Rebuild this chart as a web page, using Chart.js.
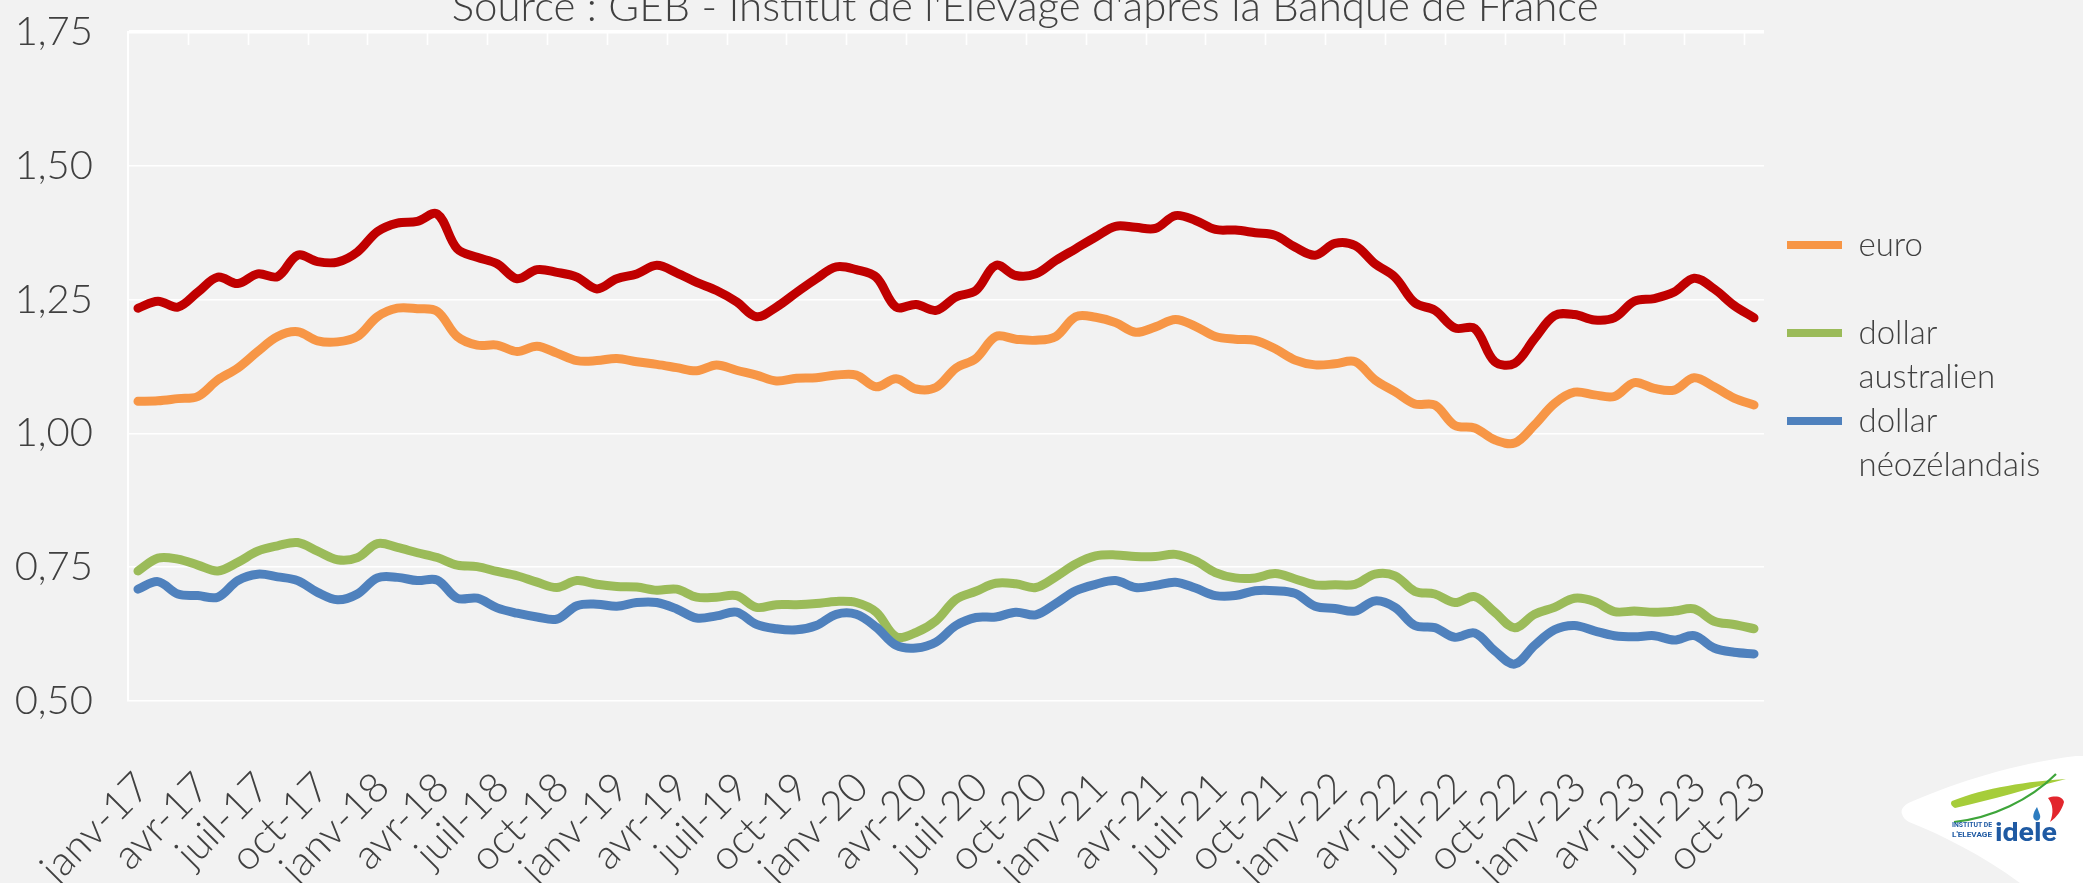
<!DOCTYPE html>
<html lang="fr">
<head>
<meta charset="utf-8">
<title>Taux de change</title>
<script src="https://cdn.jsdelivr.net/npm/chart.js@4.4.0/dist/chart.umd.min.js"></script>
<style>
  html, body { margin: 0; padding: 0; width: 2083px; height: 883px; overflow: hidden; background: #f2f2f2; }
  #wrap { position: absolute; left: 0; top: -30px; width: 2083px; height: 931px; }
  #logo { position: absolute; left: 1880px; top: 740px; width: 203px; height: 143px; }
</style>
</head>
<body>
<div id="wrap"><canvas id="chart"></canvas></div>

<svg id="logo" viewBox="0 0 203 143">
  <path d="M22,74 C20,69 25,64 33,61 C78,42 132,24 196,16 L203,16 L203,143 L140,143 C102,115 62,95 29,82 C25,80 23,77 22,74 Z" fill="#ffffff"/>
  <path d="M72,61 C104,48 150,41 186,39 C150,48 112,60 75,68 C71,66 70,63 72,61 Z" fill="#a6cd3a"/>
  <path d="M74,82 C112,78 150,60 176,34" stroke="#3ea53a" stroke-width="2.2" fill="none"/>
  <path d="M168,58 C176,55 183,57 184,62 C182,70 177,77 170,82 C174,73 173,64 168,58 Z" fill="#e2262d"/>
  <path d="M157,67 C153,73 152,78 155,80 C158,82 161,79 160,75 Z" fill="#2d7cc0"/>
  <text x="72" y="87" font-family="Roboto, sans-serif" font-weight="700" font-size="7.5" textLength="40" lengthAdjust="spacingAndGlyphs" fill="#1f5aa3">INSTITUT DE</text>
  <text x="72" y="97" font-family="Roboto, sans-serif" font-weight="700" font-size="7.5" textLength="40" lengthAdjust="spacingAndGlyphs" fill="#1f5aa3">L'ELEVAGE</text>
  <text x="115" y="101" font-family="Roboto, sans-serif" font-weight="700" font-size="25" textLength="62" lengthAdjust="spacingAndGlyphs" fill="#1f5aa3">idele</text>
</svg>

<script>
// ─────────────────────────────────────────────
// Monthly exchange rates in US dollars, janv-17 → oct-23
// ─────────────────────────────────────────────
const monthNames = ['janv', 'févr', 'mars', 'avr', 'mai', 'juin', 'juil', 'août', 'sept', 'oct', 'nov', 'déc'];
const years = ['17', '18', '19', '20', '21', '22', '23'];
const months = [];
years.forEach(y => monthNames.forEach(m => months.push(m + '-' + y)));
months.length = 82; // last month: oct-23

const yTicks = [0.50, 0.75, 1.00, 1.25, 1.50, 1.75];

const livre = [
  1.234, 1.247, 1.236, 1.264, 1.292, 1.280, 1.298, 1.293, 1.333, 1.321, 1.320, 1.339,
  1.377, 1.393, 1.396, 1.410, 1.345, 1.329, 1.317, 1.289, 1.306, 1.301, 1.292, 1.270,
  1.289, 1.298, 1.314, 1.300, 1.282, 1.267, 1.246, 1.218, 1.236, 1.263, 1.289, 1.311,
  1.306, 1.292, 1.236, 1.241, 1.230, 1.255, 1.267, 1.314, 1.295, 1.298, 1.323, 1.345,
  1.367, 1.387, 1.385, 1.383, 1.407, 1.398, 1.381, 1.380, 1.375, 1.370, 1.348, 1.333,
  1.355, 1.351, 1.317, 1.292, 1.244, 1.230, 1.197, 1.196, 1.134, 1.131, 1.177, 1.220,
  1.222, 1.212, 1.216, 1.247, 1.252, 1.264, 1.290, 1.270, 1.239, 1.216
];

const euro = [
  1.060, 1.061, 1.065, 1.069, 1.100, 1.122, 1.153, 1.181, 1.190, 1.173, 1.171, 1.181,
  1.218, 1.234, 1.233, 1.228, 1.181, 1.165, 1.165, 1.153, 1.163, 1.150, 1.136, 1.136,
  1.140, 1.134, 1.129, 1.123, 1.117, 1.128, 1.118, 1.109, 1.098, 1.103, 1.104, 1.109,
  1.109, 1.087, 1.102, 1.083, 1.086, 1.122, 1.140, 1.181, 1.176, 1.174, 1.181, 1.218,
  1.217, 1.207, 1.189, 1.199, 1.213, 1.200, 1.181, 1.176, 1.174, 1.158, 1.137, 1.128,
  1.130, 1.134, 1.100, 1.078, 1.055, 1.053, 1.015, 1.010, 0.988, 0.982, 1.016, 1.056,
  1.077, 1.072, 1.069, 1.095, 1.084, 1.081, 1.104, 1.087, 1.066, 1.053
];

const dollarAus = [
  0.743, 0.767, 0.765, 0.754, 0.743, 0.759, 0.780, 0.790, 0.796, 0.780, 0.764, 0.768,
  0.794, 0.787, 0.777, 0.768, 0.754, 0.751, 0.742, 0.734, 0.722, 0.712, 0.725, 0.718,
  0.714, 0.713, 0.707, 0.709, 0.694, 0.694, 0.697, 0.675, 0.680, 0.680, 0.682, 0.686,
  0.684, 0.666, 0.620, 0.628, 0.650, 0.690, 0.705, 0.720, 0.719, 0.712, 0.732, 0.756,
  0.771, 0.773, 0.770, 0.770, 0.774, 0.762, 0.740, 0.730, 0.730, 0.738, 0.728, 0.717,
  0.717, 0.718, 0.737, 0.734, 0.705, 0.700, 0.684, 0.695, 0.666, 0.637, 0.662, 0.675,
  0.692, 0.686, 0.667, 0.668, 0.666, 0.668, 0.672, 0.649, 0.643, 0.635
];

const dollarNz = [
  0.709, 0.723, 0.700, 0.697, 0.694, 0.725, 0.737, 0.732, 0.725, 0.703, 0.689, 0.700,
  0.730, 0.731, 0.725, 0.726, 0.692, 0.692, 0.674, 0.664, 0.657, 0.653, 0.678, 0.681,
  0.677, 0.684, 0.684, 0.672, 0.655, 0.659, 0.666, 0.643, 0.635, 0.633, 0.641, 0.662,
  0.662, 0.638, 0.604, 0.599, 0.610, 0.641, 0.656, 0.657, 0.666, 0.661, 0.682, 0.706,
  0.718, 0.725, 0.712, 0.716, 0.722, 0.711, 0.697, 0.697, 0.706, 0.706, 0.701, 0.677,
  0.673, 0.668, 0.687, 0.675, 0.641, 0.637, 0.619, 0.627, 0.594, 0.569, 0.604, 0.633,
  0.641, 0.631, 0.622, 0.620, 0.622, 0.614, 0.622, 0.599, 0.591, 0.588
];

// legend text split over two lines (euro keeps an empty second line so rows stay even)
const legendLines = {
  'euro': ['euro', ''],
  'dollar australien': ['dollar', 'australien'],
  'dollar néozélandais': ['dollar', 'néozélandais']
};

const TEXT = '#404040';
const FONT = "Lato, 'Open Sans', sans-serif";

Chart.defaults.font.family = FONT;
Chart.defaults.font.weight = '300';
Chart.defaults.color = TEXT;

function serie(label, data, color, order) {
  return {
    label, data, order,
    borderColor: color,
    backgroundColor: color,
    borderWidth: 9,
    borderCapStyle: 'round',
    borderJoinStyle: 'round',
    tension: 0.35,
    pointRadius: 0,
    fill: false
  };
}

// tick marks hanging from the top edge, one every quarter
const topTicks = {
  id: 'topTicks',
  beforeDatasetsDraw(chart) {
    const { ctx, chartArea, scales: { x } } = chart;
    ctx.save();
    ctx.strokeStyle = '#ffffff';
    ctx.lineWidth = 1.6;
    ctx.beginPath();
    for (let i = 3; i < months.length; i += 3) {
      const px = Math.round((x.getPixelForValue(i - 1) + x.getPixelForValue(i)) / 2) + 0.5;
      ctx.moveTo(px, chartArea.top);
      ctx.lineTo(px, chartArea.top + 13);
    }
    ctx.stroke();
    ctx.restore();
  }
};

const chart = new Chart(document.getElementById('chart'), {
  type: 'line',
  data: {
    labels: months,
    datasets: [
      serie('livre sterling', livre, '#C00000', 3),
      serie('euro', euro, '#F79646', 2),
      serie('dollar australien', dollarAus, '#9BBB59', 1),
      serie('dollar néozélandais', dollarNz, '#4F81BD', 0)
    ]
  },
  options: {
    responsive: true,
    maintainAspectRatio: false,
    animation: false,
    layout: { padding: { left: 0, right: 0, top: 0, bottom: 0 } },
    scales: {
      x: {
        offset: true,
        grid: { display: false, drawTicks: false },
        border: { display: false },
        ticks: {
          autoSkip: false,
          minRotation: 45,
          maxRotation: 45,
          padding: 62,
          labelOffset: 5,
          color: TEXT,
          font: { size: 41 },
          callback: (v, i) => (i % 3 === 0 ? months[i] : '')
        },
        // rotated labels may hang past the plot edges: keep the plot where it is
        afterFit: s => { s.height = 200; s.paddingLeft = 0; s.paddingRight = 0; }
      },
      y: {
        min: yTicks[0],
        max: yTicks[yTicks.length - 1],
        afterBuildTicks: s => { s.ticks = yTicks.map(v => ({ value: v })); },
        grid: {
          color: '#ffffff',
          drawTicks: false,
          lineWidth: c => (c.tick && c.tick.value === yTicks[yTicks.length - 1] ? 3.5 : 1.6)
        },
        border: { display: true, color: '#ffffff', width: 2 },
        ticks: {
          padding: 35,
          color: TEXT,
          font: { size: 40 },
          callback: v => v.toFixed(2).replace('.', ',')
        },
        afterFit: s => { s.width = 128; }
      },
      // empty right-hand strip keeping the legend off the plot
      gap: {
        position: 'right',
        display: true,
        grid: { display: false, drawTicks: false },
        border: { display: false },
        ticks: { display: false },
        afterFit: s => { s.width = 23; }
      }
    },
    plugins: {
      title: {
        display: true,
        text: "Source : GEB - Institut de l'Elevage d'après la Banque de France",
        color: TEXT,
        font: { size: 42, weight: '300', lineHeight: 1 },
        padding: { top: 16, bottom: 4 }
      },
      legend: {
        position: 'right',
        align: 'start',
        fullSize: false,
        title: { display: true, text: ' ', font: { size: 10, lineHeight: 1 }, padding: { top: 186.5, bottom: 0 } },
        labels: {
          boxWidth: 55,
          boxHeight: 8,
          padding: 0,
          color: TEXT,
          font: { size: 33, lineHeight: 1.3333 },
          generateLabels: c => c.data.datasets.map((ds, i) => ({
            text: legendLines[ds.label] || ds.label,
            fillStyle: ds.borderColor,
            strokeStyle: ds.borderColor,
            lineWidth: 0,
            fontColor: TEXT,
            hidden: false,
            datasetIndex: i
          })),
          filter: item => item.datasetIndex !== 0
        }
      },
      tooltip: { enabled: false }
    }
  },
  plugins: [topTicks]
});

// the plot ends where the legend strip starts
const plotRight = 1764;
chart.options.layout.padding.right = Math.max(0, 2083 - plotRight - 23 - chart.legend.width);
chart.update();
</script>
</body>
</html>
